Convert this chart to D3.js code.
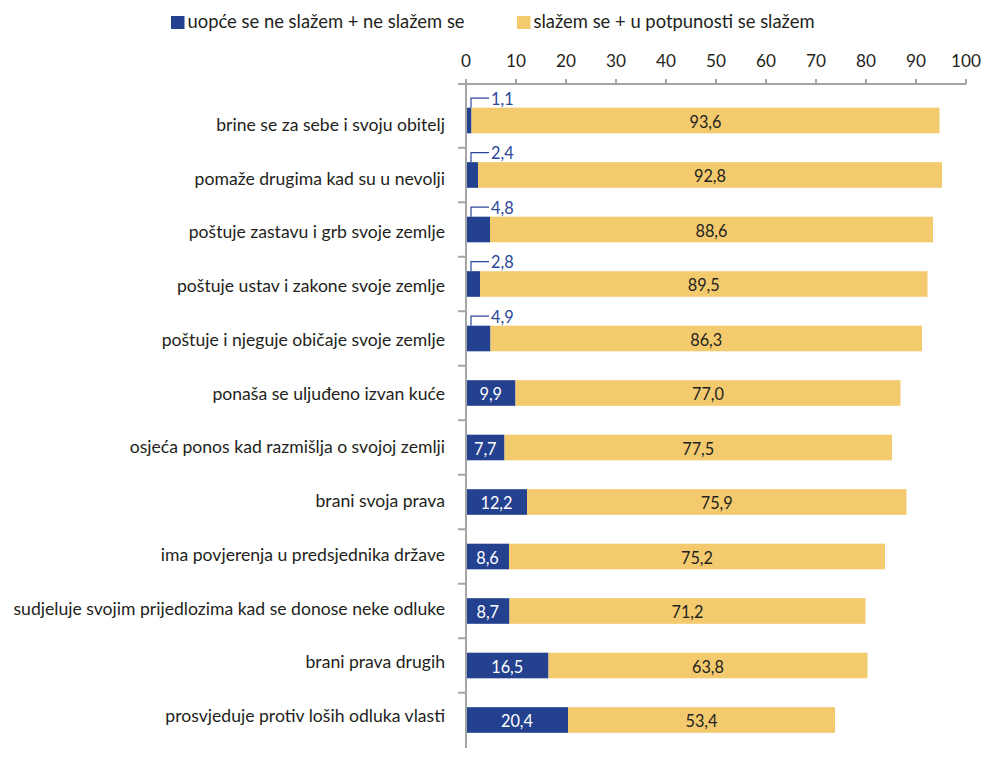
<!DOCTYPE html>
<html>
<head>
<meta charset="utf-8">
<script src="https://cdn.jsdelivr.net/npm/d3@7"></script>
<style>
  html, body { margin: 0; padding: 0; background: #ffffff; }
  svg { display: block; font-family: Lato, "Open Sans", sans-serif; }
</style>
</head>
<body>
<svg id="chart" width="981" height="763"></svg>
<script>
// Statements about a good citizen, top to bottom
const categories = [
  "brine se za sebe i svoju obitelj",
  "pomaže drugima kad su u nevolji",
  "poštuje zastavu i grb svoje zemlje",
  "poštuje ustav i zakone svoje zemlje",
  "poštuje i njeguje običaje svoje zemlje",
  "ponaša se uljuđeno izvan kuće",
  "osjeća ponos kad razmišlja o svojoj zemlji",
  "brani svoja prava",
  "ima povjerenja u predsjednika države",
  "sudjeluje svojim prijedlozima kad se donose neke odluke",
  "brani prava drugih",
  "prosvjeduje protiv loših odluka vlasti"
];
// Share of disagreement (%)
const disagree = [1.1, 2.4, 4.8, 2.8, 4.9, 9.9, 7.7, 12.2, 8.6, 8.7, 16.5, 20.4];
// Share of agreement (%)
const agree = [93.6, 92.8, 88.6, 89.5, 86.3, 77.0, 77.5, 75.9, 75.2, 71.2, 63.8, 53.4];
const seriesNames = ["uopće se ne slažem + ne slažem se", "slažem se + u potpunosti se slažem"];
const tickValues = [0, 10, 20, 30, 40, 50, 60, 70, 80, 90, 100];

const colors = ["#24418F", "#F3CB6E"];
const axisColor = "#A5A5A5";
const textColor = "#231F20";
const fmt = v => d3.format(".1f")(v).replace(".", ",");

const svg = d3.select("#chart");

const x = d3.scaleLinear().domain([0, 100]).range([466, 966]);
const y = d3.scaleBand().domain(categories).range([93.25, 747.25]).paddingInner(0.53).paddingOuter(0.265);
const yLabel = d3.scalePoint().domain(categories).range([126, 717]);

const rows = categories.map((c, i) => ({ cat: c, d: disagree[i], a: agree[i] }));

// Bars
const g = svg.append("g");
g.selectAll("rect.dis").data(rows).join("rect")
  .attr("x", x(0)).attr("y", r => y(r.cat))
  .attr("width", r => x(r.d) - x(0)).attr("height", y.bandwidth())
  .attr("fill", colors[0]);
g.selectAll("rect.agr").data(rows).join("rect")
  .attr("x", r => x(r.d)).attr("y", r => y(r.cat))
  .attr("width", r => x(r.d + r.a) - x(r.d)).attr("height", y.bandwidth())
  .attr("fill", colors[1]);

// Agreement values, centred in the yellow segment
g.selectAll("text.agr").data(rows).join("text")
  .attr("x", r => x(r.d + r.a / 2))
  .attr("y", r => y(r.cat) + y.bandwidth() / 2 + 7)
  .attr("text-anchor", "middle")
  .attr("font-size", 16.3).attr("fill", textColor)
  .text(r => fmt(r.a));

// Disagreement values: inside when the segment is wide enough, otherwise a callout
const inside = rows.filter(r => r.d >= 6);
const outside = rows.filter(r => r.d < 6);
g.selectAll("text.dis").data(inside).join("text")
  .attr("x", r => x(r.d / 2))
  .attr("y", r => y(r.cat) + y.bandwidth() / 2 + 7)
  .attr("text-anchor", "middle")
  .attr("font-size", 16.3).attr("fill", "#ffffff")
  .text(r => fmt(r.d));

g.selectAll("path.leader").data(outside).join("path")
  .attr("d", r => {
    const top = y(r.cat);
    return `M${x(1)},${top}V${top - 9.5}H${x(4.6)}`;
  })
  .attr("fill", "none").attr("stroke", "#2B4798").attr("stroke-width", 1.2);
g.selectAll("text.callout").data(outside).join("text")
  .attr("x", x(5))
  .attr("y", r => y(r.cat) - 3)
  .attr("font-size", 16.3).attr("fill", "#2B4798")
  .text(r => fmt(r.d));

// Category labels
svg.append("g").selectAll("text").data(categories).join("text")
  .attr("x", 445)
  .attr("y", c => yLabel(c) + 5)
  .attr("text-anchor", "end")
  .attr("font-size", 17.6).attr("fill", textColor)
  .text(c => c);

// Value axis at the top
const axTop = 84;
const ax = svg.append("g");
ax.append("line")
  .attr("x1", x(0) - 8).attr("x2", x(100))
  .attr("y1", axTop).attr("y2", axTop)
  .attr("stroke", axisColor).attr("stroke-width", 2);
ax.selectAll("line.tick").data(tickValues).join("line")
  .attr("x1", d => x(d)).attr("x2", d => x(d))
  .attr("y1", axTop - 5).attr("y2", axTop)
  .attr("stroke", axisColor).attr("stroke-width", 2);
ax.selectAll("text").data(tickValues).join("text")
  .attr("x", d => x(d)).attr("y", 67)
  .attr("text-anchor", "middle")
  .attr("font-size", 17.2).attr("fill", textColor)
  .text(d => d);

// Category axis
const cy = svg.append("g");
cy.append("line")
  .attr("x1", x(0)).attr("x2", x(0))
  .attr("y1", axTop - 4).attr("y2", 748)
  .attr("stroke", axisColor).attr("stroke-width", 2);
const step = y.step();
cy.selectAll("line.tick").data(categories.slice(1)).join("line")
  .attr("x1", x(0) - 8).attr("x2", x(0))
  .attr("y1", c => y(c) - (step - y.bandwidth()) / 2)
  .attr("y2", c => y(c) - (step - y.bandwidth()) / 2)
  .attr("stroke", axisColor).attr("stroke-width", 2);

// Legend
const legendX = [171, 517];
const lg = svg.append("g");
seriesNames.forEach((name, i) => {
  lg.append("rect").attr("x", legendX[i]).attr("y", 16).attr("width", 13.5).attr("height", 13)
    .attr("fill", colors[i]);
  lg.append("text").attr("x", legendX[i] + 16.5).attr("y", 28)
    .attr("font-size", 18.4).attr("fill", textColor)
    .text(name);
});
</script>
</body>
</html>
